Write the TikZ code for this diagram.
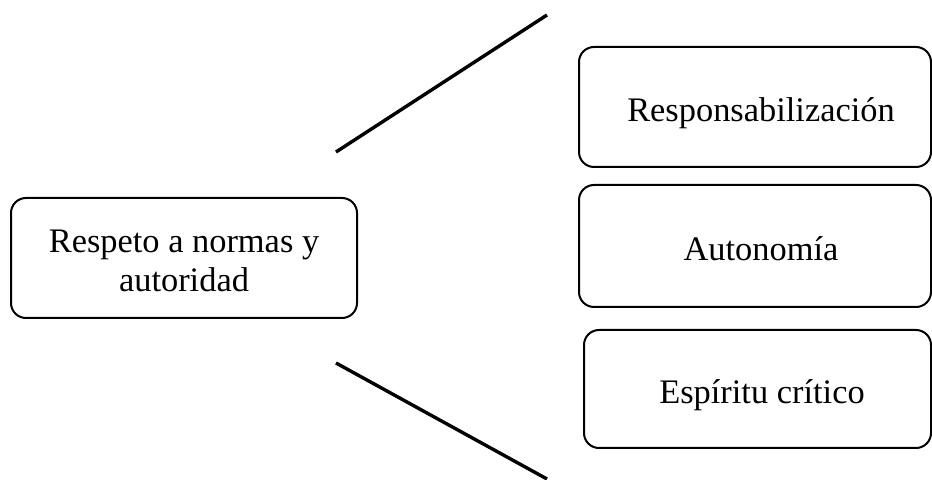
\documentclass[tikz,border=0pt]{standalone}
\usepackage{fontspec}
\setmainfont{Liberation Serif}
\tikzset{
  valuebox/.style={draw, line width=1pt, rounded corners=7.5pt, align=center,
    text height=15pt, text depth=0pt, font=\fontsize{17.2}{19.5}\selectfont},
  branch/.style={line width=1.7pt}
}
\begin{document}
\begin{tikzpicture}[x=0.5pt,y=-0.5pt]
      \useasboundingbox (0,0) rectangle (932,480);
      \draw
        (184,258) node[valuebox, minimum width=173pt, minimum height=60pt, text height=34pt] (respeto){Respeto a normas y\\autoridad}
        (755,107) node[valuebox, minimum width=176pt, minimum height=60pt] (respons){\hspace*{6pt}Responsabilización}
        (755,246) node[valuebox, minimum width=176pt, minimum height=61pt] (autonomia){\hspace*{6pt}Autonomía}
        (757.5,389) node[valuebox, minimum width=173.5pt, minimum height=59pt] (critico){\hspace*{4.5pt}Espíritu crítico};
      \coordinate (upA) at (336,152);
      \coordinate (upB) at (547,15);
      \coordinate (downA) at (336,363);
      \coordinate (downB) at (547,479);
      \begin{scope}[branch]
        \draw (upA) to (upB);
        \draw (downA) to (downB);
      \end{scope}
    \end{tikzpicture}
\end{document}
